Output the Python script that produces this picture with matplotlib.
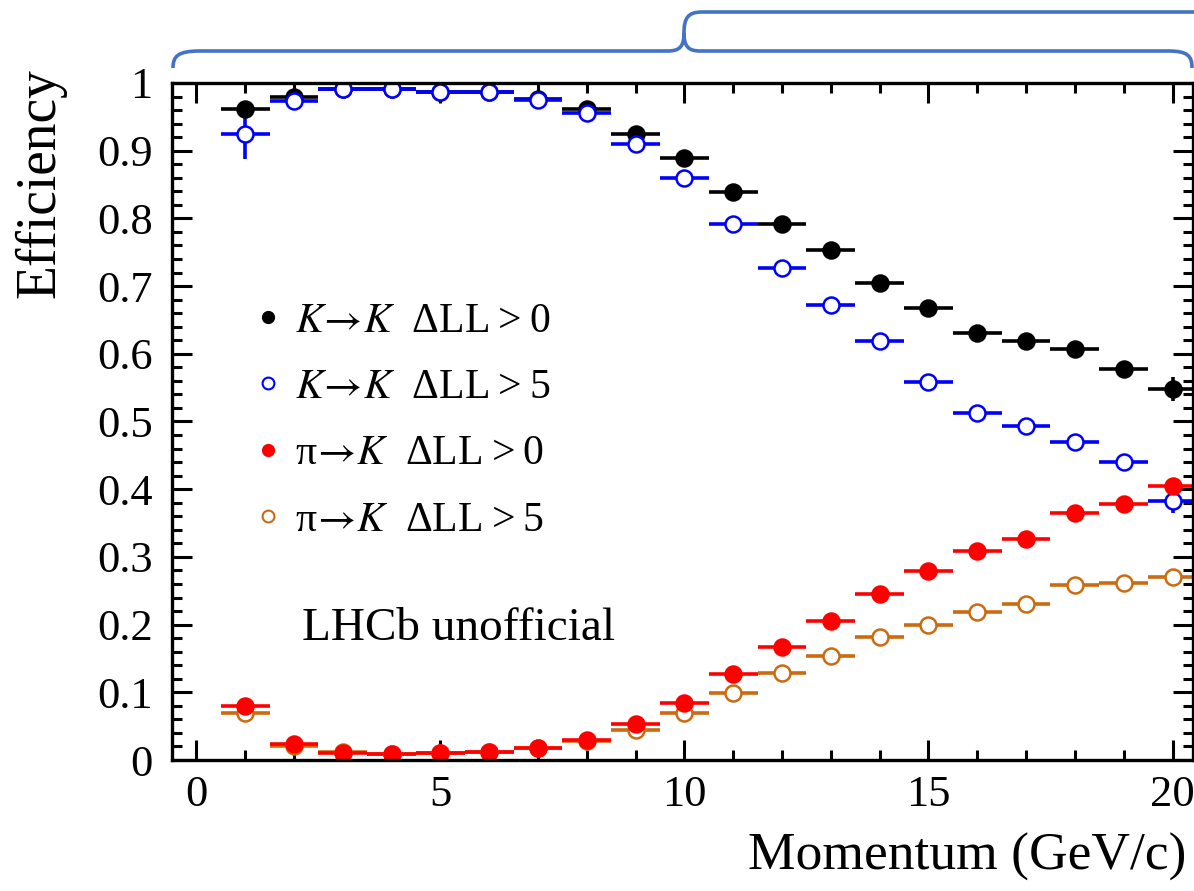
import numpy as np
import matplotlib
matplotlib.use("Agg")
import matplotlib.pyplot as plt
from matplotlib.lines import Line2D
from matplotlib.path import Path
from matplotlib.patches import PathPatch
from matplotlib.ticker import MultipleLocator, FuncFormatter

plt.rcParams['font.family'] = ['Liberation Serif', 'DejaVu Serif']
plt.rcParams['mathtext.fontset'] = 'stix'

# momentum bins (GeV/c)
momentum = np.arange(1, 21)

# K -> K, DLL > 0
kk_dll0 = [0.962, 0.979, 0.991, 0.991, 0.987, 0.986, 0.976, 0.962, 0.925, 0.889,
           0.839, 0.792, 0.754, 0.704, 0.668, 0.630, 0.619, 0.607, 0.577, 0.548]
kk_dll0_err = [0.004, 0.003, 0.002, 0.002, 0.002, 0.002, 0.002, 0.002, 0.002, 0.002,
               0.003, 0.003, 0.003, 0.003, 0.004, 0.004, 0.005, 0.006, 0.011, 0.018]

# K -> K, DLL > 5
kk_dll5 = [0.924, 0.974, 0.991, 0.991, 0.987, 0.986, 0.975, 0.955, 0.910, 0.859,
           0.792, 0.727, 0.672, 0.619, 0.559, 0.512, 0.493, 0.469, 0.440, 0.383]
kk_dll5_err = [0.036, 0.004, 0.002, 0.002, 0.002, 0.002, 0.002, 0.002, 0.002, 0.002,
               0.003, 0.003, 0.003, 0.003, 0.004, 0.004, 0.005, 0.005, 0.006, 0.018]

# pi -> K, DLL > 0
pk_dll0 = [0.080, 0.024, 0.011, 0.009, 0.010, 0.012, 0.018, 0.030, 0.053, 0.084,
           0.127, 0.167, 0.205, 0.245, 0.279, 0.309, 0.326, 0.365, 0.378, 0.405]
pk_dll0_err = [0.004, 0.001, 0.001, 0.001, 0.001, 0.001, 0.001, 0.001, 0.002, 0.002,
               0.002, 0.002, 0.003, 0.003, 0.003, 0.003, 0.004, 0.004, 0.005, 0.005]

# pi -> K, DLL > 5
pk_dll5 = [0.070, 0.021, 0.012, 0.009, 0.010, 0.012, 0.017, 0.028, 0.044, 0.069,
           0.0985, 0.128, 0.153, 0.182, 0.199, 0.219, 0.231, 0.259, 0.262, 0.271]
pk_dll5_err = [0.004, 0.001, 0.001, 0.001, 0.001, 0.001, 0.001, 0.001, 0.002, 0.002,
               0.002, 0.002, 0.003, 0.003, 0.003, 0.003, 0.004, 0.004, 0.005, 0.005]

labels = [r'$K\!\rightarrow\!K$  ΔLL' + '\u2009>\u20090',
          r'$K\!\rightarrow\!K$  ΔLL' + '\u2009>\u20095',
          r'π$\!\rightarrow\!K$  ΔLL' + '\u2009>\u20090',
          r'π$\!\rightarrow\!K$  ΔLL' + '\u2009>\u20095']
orange = '#cc6a10'

W, H = 1194, 891
fig = plt.figure(figsize=(W / 100, H / 100), dpi=100)
ax = fig.add_axes([172 / W, (H - 760) / H, (1193 - 172) / W, (760 - 83) / H])

def draw(y, yerr, color, face):
    ax.errorbar(momentum, y, xerr=0.5, yerr=yerr, fmt='o', color=color,
                ms=11.5, mfc=face, mec=color, mew=1.8, elinewidth=2.6, capsize=0)

draw(kk_dll0, kk_dll0_err, 'black', 'black')
draw(kk_dll5, kk_dll5_err, 'blue', 'white')
draw(pk_dll5, pk_dll5_err, orange, 'white')
draw(pk_dll0, pk_dll0_err, 'red', 'red')

ax.set_xlim(-0.5, 20.42)
ax.set_ylim(0, 1)
ax.xaxis.set_major_locator(MultipleLocator(5))
ax.xaxis.set_minor_locator(MultipleLocator(1))
ax.yaxis.set_major_locator(MultipleLocator(0.1))
ax.yaxis.set_minor_locator(MultipleLocator(0.02))
ax.yaxis.set_major_formatter(FuncFormatter(lambda v, p: '%g' % round(v, 2)))
ax.tick_params(which='both', direction='in', top=True, right=True, width=2.2, labelsize=32)
ax.tick_params(which='major', length=14.5)
ax.tick_params(which='minor', length=7.2)
ax.tick_params(axis='x', pad=11)
ax.tick_params(axis='y', pad=14)
for s in ax.spines.values():
    s.set_linewidth(2.4)

# legend
handles = [
    Line2D([], [], ls='none', marker='o', ms=8.5, color='black'),
    Line2D([], [], ls='none', marker='o', ms=8.5, mfc='white', mec='blue', mew=1.5),
    Line2D([], [], ls='none', marker='o', ms=8.5, color='red'),
    Line2D([], [], ls='none', marker='o', ms=8.5, mfc='white', mec=orange, mew=1.5),
]
ax.legend(handles, labels, loc='upper left', bbox_to_anchor=(255 / W, (H - 302) / H),
          bbox_transform=fig.transFigure, frameon=False, fontsize=30,
          handlelength=0.6, handletextpad=0.35, labelspacing=0.67, borderpad=0,
          borderaxespad=0)

fig.text(302 / W, (H - 640) / H, 'LHCb unofficial', fontsize=34, ha='left', va='baseline')
fig.text(40 / W, (H - 68) / H, 'Efficiency', fontsize=40, rotation=90, ha='center', va='top')
fig.text(1186 / W, (H - 857) / H, 'Momentum (GeV/c)', fontsize=38.5, ha='right', va='center')

# curly braces above the frame
def px(x, y):
    return (x / W, 1 - y / H)

verts = [px(173, 68), px(173, 56), px(178, 51), px(200, 51),
         px(668, 51),
         px(680, 51), px(684, 46), px(684, 33),
         px(684, 46), px(688, 51), px(700, 51),
         px(1168, 51),
         px(1188, 51), px(1192, 56), px(1192, 68),
         px(684, 33), px(684, 18), px(688, 12), px(702, 12),
         px(1196, 12)]
codes = [Path.MOVETO, Path.CURVE4, Path.CURVE4, Path.CURVE4,
         Path.LINETO,
         Path.CURVE4, Path.CURVE4, Path.CURVE4,
         Path.CURVE4, Path.CURVE4, Path.CURVE4,
         Path.LINETO,
         Path.CURVE4, Path.CURVE4, Path.CURVE4,
         Path.MOVETO, Path.CURVE4, Path.CURVE4, Path.CURVE4,
         Path.LINETO]
fig.patches.append(PathPatch(Path(verts, codes), transform=fig.transFigure,
                             fill=False, edgecolor='#4472c4', lw=2.6))

fig.savefig('out.png', dpi=100)
